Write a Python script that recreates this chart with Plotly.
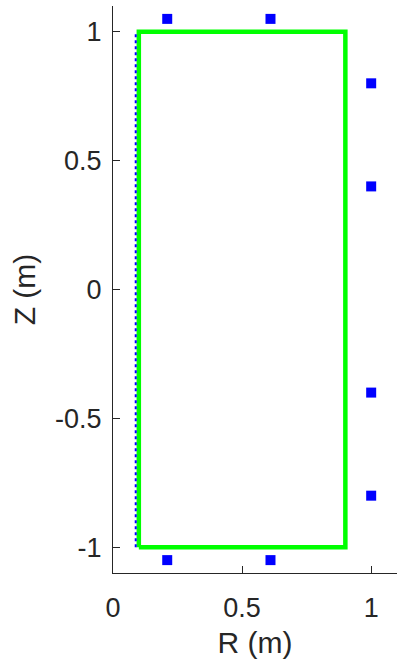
import plotly.graph_objects as go

# Limiter outline (R, Z) in metres
limiter_r = [0.1, 0.9, 0.9, 0.1, 0.1]
limiter_z = [-1.0, -1.0, 1.0, 1.0, -1.0]

# Inner wall line
wall_r = [0.088, 0.088]
wall_z = [-1.0, 1.0]

# Coil positions
coil_r = [0.21, 0.61, 1.0, 1.0, 1.0, 1.0, 0.21, 0.61]
coil_z = [1.05, 1.05, 0.8, 0.4, -0.4, -0.8, -1.05, -1.05]

x_ticks = [0, 0.5, 1]
x_tick_text = ["0", "0.5", "1"]
y_ticks = [-1, -0.5, 0, 0.5, 1]
y_tick_text = ["-1", "-0.5", "0", "0.5", "1"]

axis_color = "#262626"
font_family = "Liberation Sans, Arial, sans-serif"

fig = go.Figure()
fig.add_trace(go.Scatter(
    x=limiter_r, y=limiter_z, mode="lines",
    line=dict(color="#00FF00", width=4.5),
))
fig.add_trace(go.Scatter(
    x=wall_r, y=wall_z, mode="lines",
    line=dict(color="#0000FF", width=2, dash="dot"),
    hoverinfo="skip",
))
fig.add_trace(go.Scatter(
    x=coil_r, y=coil_z, mode="markers",
    marker=dict(symbol="square", size=10, color="#0000FF"),
))

fig.update_layout(
    width=397, height=669,
    margin=dict(l=113, r=0, t=6, b=96),
    paper_bgcolor="white", plot_bgcolor="white",
    showlegend=False,
    font=dict(family=font_family, size=28, color=axis_color),
    xaxis=dict(
        range=[0, 1.1], tickvals=x_ticks, ticktext=x_tick_text,
        ticks="inside", ticklen=7, tickwidth=1, tickcolor=axis_color,
        showline=True, linecolor=axis_color, linewidth=1,
        showgrid=False, zeroline=False, mirror=False,
        ticklabelstandoff=11,
        tickfont=dict(size=27),
        title=dict(text="R (m)", standoff=9, font=dict(size=30)),
    ),
    yaxis=dict(
        range=[-1.1, 1.1], tickvals=y_ticks, ticktext=y_tick_text,
        ticks="inside", ticklen=7, tickwidth=1, tickcolor=axis_color,
        showline=True, linecolor=axis_color, linewidth=1,
        showgrid=False, zeroline=False, mirror=False,
        ticklabelstandoff=5,
        tickfont=dict(size=27),
        title=dict(text="Z (m)", standoff=10, font=dict(size=30)),
    ),
)

fig.write_html("out.html")
